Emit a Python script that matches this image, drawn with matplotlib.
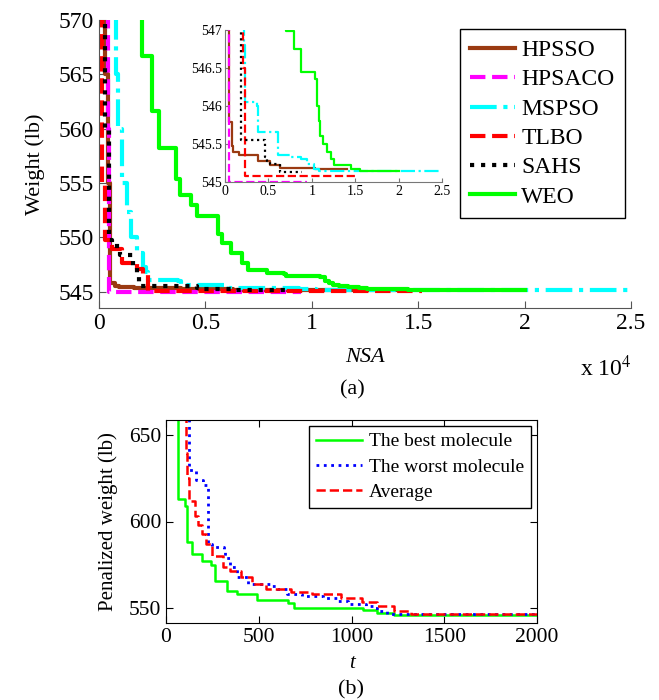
import matplotlib
matplotlib.use("Agg")
import matplotlib.pyplot as plt
from matplotlib.ticker import FuncFormatter

plt.rcParams['font.family'] = ['Liberation Serif', 'DejaVu Serif']
plt.rcParams['mathtext.fontset'] = 'stix'

# ---- (a) convergence of NSA (x in units of 10^4) ----
hpsso_x = [0.020, 0.030, 0.040, 0.050, 0.077, 0.096, 0.165, 0.385, 0.520, 0.630, 1.040, 1.400]
hpsso_y = [570.5, 565.0, 555.0, 545.79, 545.48, 545.40, 545.35, 545.28, 545.23, 545.19, 545.17, 545.17]

hpsaco_x = [0.035, 0.040, 0.045, 0.950]
hpsaco_y = [570.5, 560.0, 545.0, 545.0]

mspso_x = [0.070, 0.080, 0.090, 0.110, 0.130, 0.150, 0.180, 0.205, 0.220, 0.230, 0.370, 0.385,
           0.610, 0.750, 0.870, 0.940, 1.020, 1.080, 2.500]
mspso_y = [570.5, 565.0, 560.0, 555.0, 552.3, 550.0, 548.6, 547.3, 546.8, 546.05, 546.0, 545.66,
           545.36, 545.33, 545.30, 545.24, 545.17, 545.15, 545.15]

tlbo_x = [0.000, 0.012, 0.030, 0.060, 0.110, 0.180, 0.205, 0.230, 1.520]
tlbo_y = [570.5, 555.0, 549.8, 548.9, 547.6, 547.1, 546.5, 545.08, 545.08]

sahs_x = [0.020, 0.030, 0.045, 0.060, 0.100, 0.160, 0.180, 0.190, 0.460, 0.480, 0.520, 0.630, 0.885]
sahs_y = [570.5, 560.0, 549.8, 549.2, 548.4, 547.3, 546.6, 545.55, 545.33, 545.28, 545.24, 545.13, 545.13]

weo_x = [0.200, 0.200, 0.250, 0.280, 0.360, 0.380, 0.430, 0.460, 0.560, 0.580, 0.620, 0.670,
         0.700, 0.790, 0.870, 0.880, 1.040, 1.060, 1.080, 1.100, 1.130, 1.170, 1.220, 1.260,
         1.450, 1.550, 2.000]
weo_y = [572.0, 566.7, 561.6, 558.2, 555.4, 553.9, 553.0, 552.0, 550.3, 549.5, 548.6, 547.6,
         546.99, 546.75, 546.6, 546.45, 546.35, 546.0, 545.8, 545.6, 545.5, 545.4, 545.3, 545.22,
         545.17, 545.15, 545.15]

names = ['HPSSO', 'HPSACO', 'MSPSO', 'TLBO', 'SAHS', 'WEO']
colors = ['#9A3A12', '#FF00FF', '#00FFFF', '#FF0000', '#000000', '#00FF00']
styles = ['-', '--', '-.', '--', ':', '-']
xs = [hpsso_x, hpsaco_x, mspso_x, tlbo_x, sahs_x, weo_x]
ys = [hpsso_y, hpsaco_y, mspso_y, tlbo_y, sahs_y, weo_y]

# ---- (b) penalized weight vs t ----
best_t = [55, 63, 100, 112, 140, 192, 245, 262, 328, 385, 490, 660, 688, 1060, 1135, 1230, 2000]
best_w = [670, 613, 609, 588, 581, 577, 575, 565.6, 559.7, 558.0, 554.6, 552.5, 550.0, 548.4,
          547.0, 545.9, 545.9]
worst_t = [105, 125, 161, 200, 228, 250, 310, 320, 346, 385, 442, 558, 596, 654, 731, 846, 923,
           981, 1077, 1115, 1135, 1192, 1230, 2000]
worst_w = [670, 630, 624, 621, 587, 585, 583, 579, 573.3, 567.5, 563.6, 562.6, 560.7, 557.8,
           556.8, 555.4, 553.9, 552.3, 551.0, 549.6, 548.1, 546.5, 546.1, 546.1]
avg_t = [100, 106, 112, 125, 154, 173, 195, 215, 250, 308, 346, 404, 462, 538, 673, 788, 942,
         1058, 1135, 1230, 1320, 2000]
avg_w = [670, 640, 625, 612, 603, 598, 593, 587, 580, 573.5, 571.4, 567.5, 563.6, 560.7, 558.8,
         557.8, 555.8, 553.0, 551.0, 548.1, 546.1, 546.1]

fig = plt.figure(figsize=(6.59, 7.0), dpi=100)
W, H = 659.0, 700.0

def box(l, t, r, b):
    return [l / W, 1 - b / H, (r - l) / W, (b - t) / H]

gfmt = FuncFormatter(lambda v, p: '%g' % v)

# main axes
ax = fig.add_axes(box(99, 20, 631, 308))
for x, y, c, s, n in zip(xs, ys, colors, styles, names):
    ax.plot(x, y, color=c, ls=s, lw=3, drawstyle='steps-post', label=n)
ax.set_xlim(0, 2.5)
ax.set_ylim(543.5, 570)
ax.set_xticks([0, 0.5, 1, 1.5, 2, 2.5])
ax.set_yticks([545, 550, 555, 560, 565, 570])
ax.xaxis.set_major_formatter(gfmt)
ax.spines['top'].set_visible(False)
ax.spines['right'].set_visible(False)
for sp in ax.spines.values():
    sp.set_color('#555555')
ax.tick_params(direction='in', length=5, labelsize=17, colors='#555555', labelcolor='black')
ax.set_ylabel('Weight (lb)', fontsize=16, labelpad=10)
ax.set_xlabel('NSA', fontsize=16, style='italic', labelpad=10)
leg = ax.legend(loc='upper right', bbox_to_anchor=(625 / W, 1 - 29 / H),
                bbox_transform=fig.transFigure, borderaxespad=0, fontsize=17,
                handlelength=1.9, handletextpad=0.25, labelspacing=0.33, fancybox=False,
                framealpha=1, edgecolor='black', borderpad=0.45)
leg.get_frame().set_linewidth(1.0)
fig.text(632 / W, 1 - 368 / H, r'x 10$^4$', fontsize=17, ha='right', va='center')
fig.text(352 / W, 1 - 390 / H, '(a)', fontsize=16, ha='center', va='center')

# inset
ins = fig.add_axes(box(225, 30, 442, 182))
for x, y, c, s in zip(xs, ys, colors, styles):
    ins.plot(x, y, color=c, ls=s, lw=1.6, drawstyle='steps-post')
ins.set_xlim(0, 2.5)
ins.set_ylim(545, 547)
ins.set_xticks([0, 0.5, 1, 1.5, 2, 2.5])
ins.set_yticks([545, 545.5, 546, 546.5, 547])
ins.xaxis.set_major_formatter(gfmt)
ins.yaxis.set_major_formatter(gfmt)
ins.spines['top'].set_visible(False)
ins.spines['right'].set_visible(False)
for sp in ins.spines.values():
    sp.set_color('#777777')
ins.tick_params(direction='in', length=3, labelsize=10, pad=2, colors='#777777',
                labelcolor='black')
ins.patch.set_alpha(0)

# bottom chart
bx = fig.add_axes(box(166, 420, 537, 623))
bx.plot(best_t, best_w, color='#00FF00', ls='-', lw=1.8, drawstyle='steps-post',
        label='The best molecule')
bx.plot(worst_t, worst_w, color='#0000FF', ls=':', lw=2, drawstyle='steps-post',
        label='The worst molecule')
bx.plot(avg_t, avg_w, color='#FF0000', ls='--', lw=1.8, drawstyle='steps-post',
        label='Average')
bx.set_xlim(0, 2000)
bx.set_ylim(541, 659)
bx.set_xticks([0, 500, 1000, 1500, 2000])
bx.set_yticks([550, 600, 650])
bx.tick_params(direction='in', length=5, labelsize=15.5, top=True, right=True)
bx.set_ylabel('Penalized weight (lb)', fontsize=15, labelpad=8)
bx.set_xlabel('t', fontsize=15, style='italic', labelpad=5)
lg2 = bx.legend(loc='upper right', bbox_to_anchor=(531 / W, 1 - 426 / H),
                bbox_transform=fig.transFigure, fontsize=14, handlelength=2.4,
                handletextpad=0.35, labelspacing=0.39, fancybox=False, framealpha=1,
                edgecolor='black', borderaxespad=0, borderpad=0.35)
lg2.get_frame().set_linewidth(1.0)
fig.text(351 / W, 1 - 690 / H, '(b)', fontsize=16, ha='center', va='center')

fig.savefig('out.png', dpi=100)
